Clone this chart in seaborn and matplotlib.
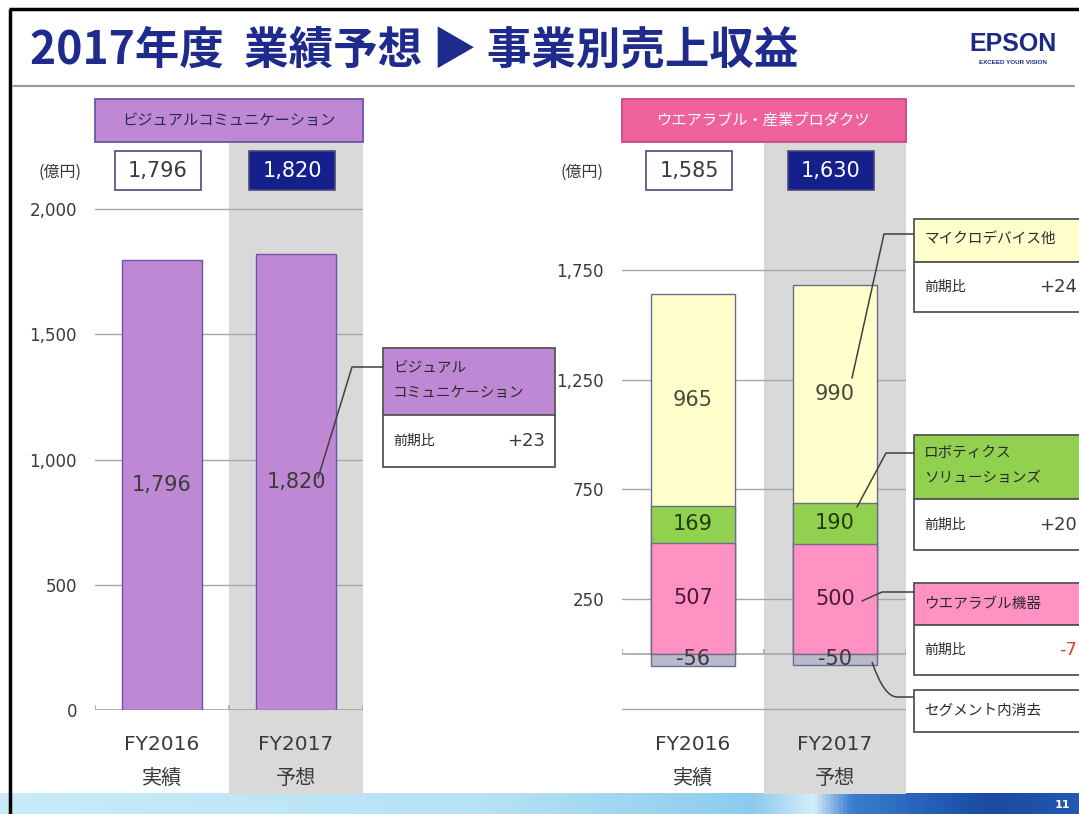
import numpy as np
import pandas as pd
import matplotlib
matplotlib.use('Agg')
import matplotlib.pyplot as plt
import matplotlib.transforms as mtransforms
from matplotlib.patches import Rectangle, PathPatch
from matplotlib.path import Path
from matplotlib.colors import LinearSegmentedColormap
import seaborn as sns

# DATOS (億円)
categorias = ['FY2016', 'FY2017']
subtitulos = ['実績', '予想']
vc_ventas = [1796, 1820]          # ビジュアルコミュニケーション
wip_micro = [965, 990]            # マイクロデバイス他
wip_robot = [169, 190]            # ロボティクスソリューションズ
wip_wear = [507, 500]             # ウエアラブル機器
wip_elim = [-56, -50]             # セグメント内消去
dif_vc = '+23'
dif_micro = '+24'
dif_robot = '+20'
dif_wear = '-7'
vc_yticks = [0, 500, 1000, 1500, 2000]
wip_yticks = [-250, 250, 750, 1250, 1750]
wip_ylabels = ['', '250', '750', '1,250', '1,750']

# ESTILO
sns.set_theme(style='white')
plt.rcParams['font.family'] = ['DejaVu Sans', 'Noto Sans CJK JP']
JP = ['Noto Sans CJK JP', 'DejaVu Sans']

MORADO = '#bf88d4'
MORADO_BORDE = '#6a55a8'
ROSA_TITULO = '#f0629c'
AMARILLO = '#ffffcc'
VERDE = '#92d050'
ROSA = '#ff92c2'
GRIS_ELIM = '#b9b9cc'
BORDE_BARRA = '#6c6c8c'
SOMBRA = '#d9d9d9'
GRILLA = '#a6a6a6'
AZUL = '#16208c'
TEXTO = '#3a3a3a'

W, H = 1079, 814
fig = plt.figure(figsize=(W / 100, H / 100), dpi=100)


def caja_px(x0, y0, x1, y1):
    return [x0 / W, 1 - y1 / H, (x1 - x0) / W, (y1 - y0) / H]


# capa de fondo y capa superior en pixeles
bg = fig.add_axes([0, 0, 1, 1], zorder=0)
ov = fig.add_axes([0, 0, 1, 1], zorder=5)
for a in (bg, ov):
    a.set_xlim(0, W)
    a.set_ylim(H, 0)
    a.axis('off')

# pie de pagina con degradado
grad = np.linspace(0, 1, 512).reshape(1, -1)
cmap_pie = LinearSegmentedColormap.from_list('pie', [
    (0.0, '#c8ecf9'), (0.45, '#b6e2f5'), (0.70, '#8ccbee'), (0.755, '#d6eefa'),
    (0.79, '#3a7fcf'), (0.88, '#2059b0'), (0.92, '#1c4aa0'), (1.0, '#2258b2')])
bg.imshow(grad, cmap=cmap_pie, extent=[0, W, H, 793], aspect='auto', zorder=1)
bg.set_xlim(0, W)
bg.set_ylim(H, 0)
ov.text(1062, 805, '11', color='white', fontsize=8, fontweight='bold', ha='center', va='center')

# marco negro y linea del titulo
bg.plot([9, W], [9, 9], color='black', lw=2.5, solid_capstyle='butt')
bg.plot([10, 10], [9, H], color='black', lw=2.5, solid_capstyle='butt')
bg.plot([13, 1074], [86, 86], color='#9a9a9a', lw=1.5)

# titulo y logo
ov.text(30, 50, '2017年度  業績予想 ▶ 事業別売上収益', fontsize=32, fontweight='bold',
        color='#1e2a8c', family=JP, va='center', ha='left')
ov.text(1013, 44, 'EPSON', fontsize=18, fontweight='bold', color='#1b2a84',
        family=['Liberation Sans'], ha='center', va='center')
ov.text(1013, 62, 'EXCEED YOUR VISION', fontsize=4.5, fontweight='bold', color='#1b2a84',
        family=['Liberation Sans'], ha='center', va='center')


def preparar_eje(ax, ylim, yticks, ylabels, tick_px):
    ax.patch.set_visible(False)
    ax.set_xlim(-0.5, 1.5)
    ax.set_ylim(*ylim)
    ax.set_yticks(yticks)
    ax.set_yticklabels(ylabels)
    ax.set_xticks([])
    ax.set_xlabel('')
    ax.set_ylabel('')
    ax.set_axisbelow(True)
    ax.grid(axis='y', color=GRILLA, lw=1)
    ax.grid(axis='x', visible=False)
    for s in ax.spines.values():
        s.set_visible(False)
    ax.tick_params(axis='y', length=0, pad=13, labelsize=12, labelcolor=TEXTO)
    # linea base y marcas de categoria
    ax.axhline(0, color=GRILLA, lw=1.2, zorder=0.6)
    ax.vlines([-0.5, 0.5, 1.5], 0, tick_px, color=GRILLA, lw=1.2, zorder=0.6)
    return mtransforms.blended_transform_factory(ax.transData, bg.transData)


def cabecera_y_totales(ax, tr, titulo, fc, ec, tc, totales, x_unidad):
    ax.add_patch(Rectangle((-0.5, 99), 2.0, 43, transform=tr, fc=fc, ec=ec, lw=1.3,
                           clip_on=False, zorder=3))
    ax.text(0.5, 120.5, titulo, transform=tr, ha='center', va='center', fontsize=11,
            color=tc, family=JP)
    # sombra del pronostico
    ax.add_patch(Rectangle((0.5, 143), 1.0, 651, transform=tr, fc=SOMBRA, ec='none',
                           clip_on=False, zorder=0.2))
    ancho = 86 / x_unidad
    for i, tot in enumerate(totales):
        relleno = 'white' if i == 0 else AZUL
        ax.add_patch(Rectangle((i - ancho / 2 - 4 / x_unidad, 151), ancho, 39, transform=tr,
                               fc=relleno, ec='#4a4a7a', lw=1.2, clip_on=False, zorder=3))
        ax.text(i - 4 / x_unidad, 171, f'{tot:,}', transform=tr, ha='center', va='center',
                fontsize=15, color=TEXTO if i == 0 else 'white', zorder=4)
    for i, (c, s) in enumerate(zip(categorias, subtitulos)):
        ax.text(i, 745, c, transform=tr, ha='center', va='center', fontsize=14.5, color=TEXTO)
        ax.text(i, 778, s, transform=tr, ha='center', va='center', fontsize=14.5,
                color=TEXTO, family=JP)


# ===== IZQUIERDA: ビジュアルコミュニケーション =====
ax1 = fig.add_axes(caja_px(95, 199, 363, 710), zorder=1)
df_vc = pd.DataFrame({'期': categorias, '売上収益': vc_ventas})
sns.barplot(data=df_vc, x='期', y='売上収益', color=MORADO, saturation=1, width=0.59,
            edgecolor=MORADO_BORDE, linewidth=1.0, errorbar=None, ax=ax1)
tr1 = preparar_eje(ax1, (0, 2040), vc_yticks, [f'{v:,}' for v in vc_yticks], 20)
cabecera_y_totales(ax1, tr1, 'ビジュアルコミュニケーション', MORADO, MORADO_BORDE, '#2a2a4a',
                   vc_ventas, 134)
for i, v in enumerate(vc_ventas):
    ax1.text(i, v / 2, f'{v:,}', ha='center', va='center', fontsize=15, color=TEXTO)
ov.text(60, 172, '(億円)', ha='center', va='center', fontsize=11.5, color=TEXTO, family=JP)

# ===== DERECHA: ウエアラブル・産業プロダクツ =====
ax2 = fig.add_axes(caja_px(622, 204, 906, 720), zorder=1)
wear = np.array(wip_wear)
robot = np.array(wip_robot)
micro = np.array(wip_micro)
elim = np.array(wip_elim)
nivel_robot = wear + robot
nivel_micro = nivel_robot + micro
totales_wip = nivel_micro + elim

for niveles, color in [(nivel_micro, AMARILLO), (nivel_robot, VERDE), (wear, ROSA), (elim, GRIS_ELIM)]:
    sns.barplot(x=categorias, y=niveles, color=color, saturation=1, width=0.585,
                edgecolor=BORDE_BARRA, linewidth=1.0, errorbar=None, ax=ax2)
tr2 = preparar_eje(ax2, (-300, 2050), wip_yticks, wip_ylabels, 23)
cabecera_y_totales(ax2, tr2, 'ウエアラブル・産業プロダクツ', ROSA_TITULO, '#c9487e', 'white',
                   totales_wip, 142)
for i in range(2):
    ax2.text(i, nivel_robot[i] + micro[i] / 2, f'{micro[i]:,}', ha='center', va='center',
             fontsize=15, color='#4a4a3a')
    ax2.text(i, wear[i] + robot[i] / 2, f'{robot[i]:,}', ha='center', va='center',
             fontsize=15, color='#1f3d0c')
    ax2.text(i, wear[i] / 2, f'{wear[i]:,}', ha='center', va='center',
             fontsize=15, color='#4a1a32')
    ax2.text(i, elim[i] / 2 + 5, f'{elim[i]:,}', ha='center', va='center',
             fontsize=15, color=TEXTO)
ov.text(582, 172, '(億円)', ha='center', va='center', fontsize=11.5, color=TEXTO, family=JP)


# ===== LLAMADAS =====
def llamada(x0, x1, y0, ydiv, y1, fc, lineas, dif=None, dif_color=TEXTO):
    ov.add_patch(Rectangle((x0, y0), x1 - x0, ydiv - y0, fc=fc, ec='#555555', lw=1.3))
    if ydiv != y1:
        ov.add_patch(Rectangle((x0, ydiv), x1 - x0, y1 - ydiv, fc='white', ec='#555555', lw=1.3))
    for txt, yy in lineas:
        ov.text(x0 + 10, yy, txt, fontsize=10.5, color='#2a2a2a', family=JP, va='center')
    if dif is not None:
        ym = (ydiv + y1) / 2
        ov.text(x0 + 10, ym, '前期比', fontsize=10, color='#2a2a2a', family=JP, va='center')
        ov.text(min(x1 - 10, 1077), ym, dif, fontsize=13, color=dif_color, ha='right', va='center')


def guia(xs, ys):
    ov.plot(xs, ys, color='#404040', lw=1.1, solid_joinstyle='round')


llamada(383, 555, 348, 415, 467, MORADO, [('ビジュアル', 367), ('コミュニケーション', 393)], dif_vc)
guia([318, 352, 383], [478, 367, 367])

llamada(914, 1100, 219, 262, 312, AMARILLO, [('マイクロデバイス他', 240)], dif_micro)
guia([852, 884, 914], [378, 234, 234])

llamada(914, 1100, 435, 499, 550, VERDE, [('ロボティクス', 453), ('ソリューションズ', 478)], dif_robot)
guia([857, 886, 914], [507, 453, 453])

llamada(914, 1100, 583, 625, 675, ROSA, [('ウエアラブル機器', 604)], dif_wear, '#e0412f')
guia([862, 882, 914], [601, 592, 592])

llamada(914, 1100, 690, 732, 732, 'white', [('セグメント内消去', 711)])
ruta = Path([(872, 662), (884, 697), (897, 697), (914, 697)],
            [Path.MOVETO, Path.CURVE3, Path.CURVE3, Path.LINETO])
ov.add_patch(PathPatch(ruta, fc='none', ec='#404040', lw=1.1))

fig.savefig('out.png', dpi=100)
